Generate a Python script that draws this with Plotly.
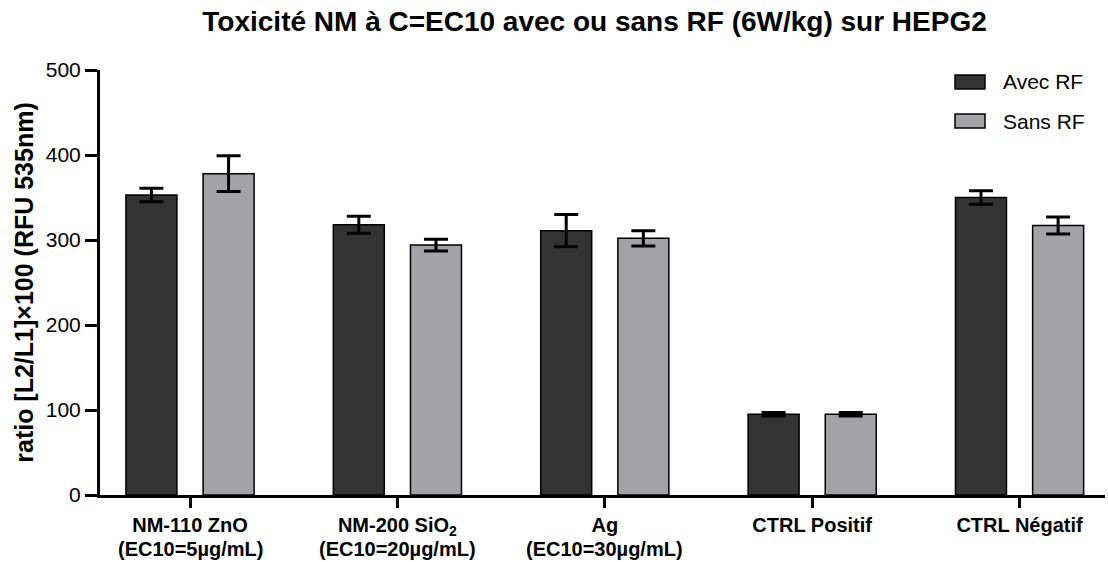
import plotly.graph_objects as go

# Groups, values and standard errors
group_names = ["NM-110 ZnO", "NM-200 SiO<sub>2</sub>", "Ag", "CTRL Positif", "CTRL Négatif"]
group_doses = ["(EC10=5µg/mL)", "(EC10=20µg/mL)", "(EC10=30µg/mL)", "", ""]
avec_rf = [353, 318, 311, 95, 350]
avec_rf_err = [8, 10, 19, 2, 8]
sans_rf = [378, 294, 302, 95, 317]
sans_rf_err = [21, 7, 9, 2, 10]
y_ticks = [0, 100, 200, 300, 400, 500]

series_names = ["Avec RF", "Sans RF"]
dark = "#333333"
light = "#a3a2a7"
font_family = "Arial, Liberation Sans, sans-serif"

x = list(range(len(group_names)))

# plot area in pixels: left 100, right 1105, top 70, bottom 495
def px_to_paper_x(px):
    return (px - 100) / 1005

def px_to_paper_y(py):
    return (495 - py) / 425

fig = go.Figure()
for name, vals, errs, color in [
    (series_names[0], avec_rf, avec_rf_err, dark),
    (series_names[1], sans_rf, sans_rf_err, light),
]:
    fig.add_trace(go.Bar(
        name=name, x=x, y=vals,
        marker=dict(color=color, line=dict(color="black", width=1.5)),
        error_y=dict(type="data", array=errs, visible=True,
                     color="black", thickness=3, width=12),
        showlegend=False,
    ))

# Legend: swatches and labels
legend_rows = [(series_names[0], dark, 82), (series_names[1], light, 121)]
for label, color, yc in legend_rows:
    fig.add_shape(type="rect", xref="paper", yref="paper",
                  x0=px_to_paper_x(955), x1=px_to_paper_x(985),
                  y0=px_to_paper_y(yc + 7), y1=px_to_paper_y(yc - 7),
                  fillcolor=color, line=dict(color="black", width=1.5))
    fig.add_annotation(xref="paper", yref="paper", x=px_to_paper_x(1001),
                       y=px_to_paper_y(yc), text=label, showarrow=False,
                       xanchor="left", yanchor="middle",
                       font=dict(family=font_family, size=21, color="black"))

# Second line of the group labels (doses)
for xi, dose in zip(x, group_doses):
    if dose:
        fig.add_annotation(xref="x", yref="paper", x=xi, y=px_to_paper_y(549),
                           text="<b>" + dose + "</b>", showarrow=False,
                           xanchor="center", yanchor="middle",
                           font=dict(family=font_family, size=20, color="black"))

fig.update_layout(
    width=1108, height=562,
    margin=dict(l=100, r=3, t=70, b=67),
    paper_bgcolor="white", plot_bgcolor="white",
    barmode="group", bargap=0.256, bargroupgap=0.339,
    title=dict(text="<b>Toxicité NM à C=EC10 avec ou sans RF (6W/kg) sur HEPG2</b>",
               x=0.5366, xanchor="center", y=1 - 21 / 562, yanchor="middle",
               font=dict(family=font_family, size=28, color="black")),
    font=dict(family=font_family, color="black"),
)

fig.update_xaxes(
    tickmode="array", tickvals=x,
    ticktext=["<b>" + g + "</b>" for g in group_names],
    range=[-0.434, 4.412],
    showline=True, linecolor="black", linewidth=3,
    ticks="outside", ticklen=10, tickwidth=3, tickcolor="black",
    tickfont=dict(family=font_family, size=20, color="black"),
    showgrid=False, zeroline=False,
)
fig.update_yaxes(
    range=[0, 500], tickvals=y_ticks,
    showline=True, linecolor="black", linewidth=3,
    ticks="outside", ticklen=12, tickwidth=3, tickcolor="black",
    tickfont=dict(family=font_family, size=21, color="black"),
    title=dict(text="<b>ratio [L2/L1]×100 (RFU 535nm)</b>",
               font=dict(family=font_family, size=25, color="black"),
               standoff=6),
    showgrid=False, zeroline=False,
)

fig.write_html("out.html")
